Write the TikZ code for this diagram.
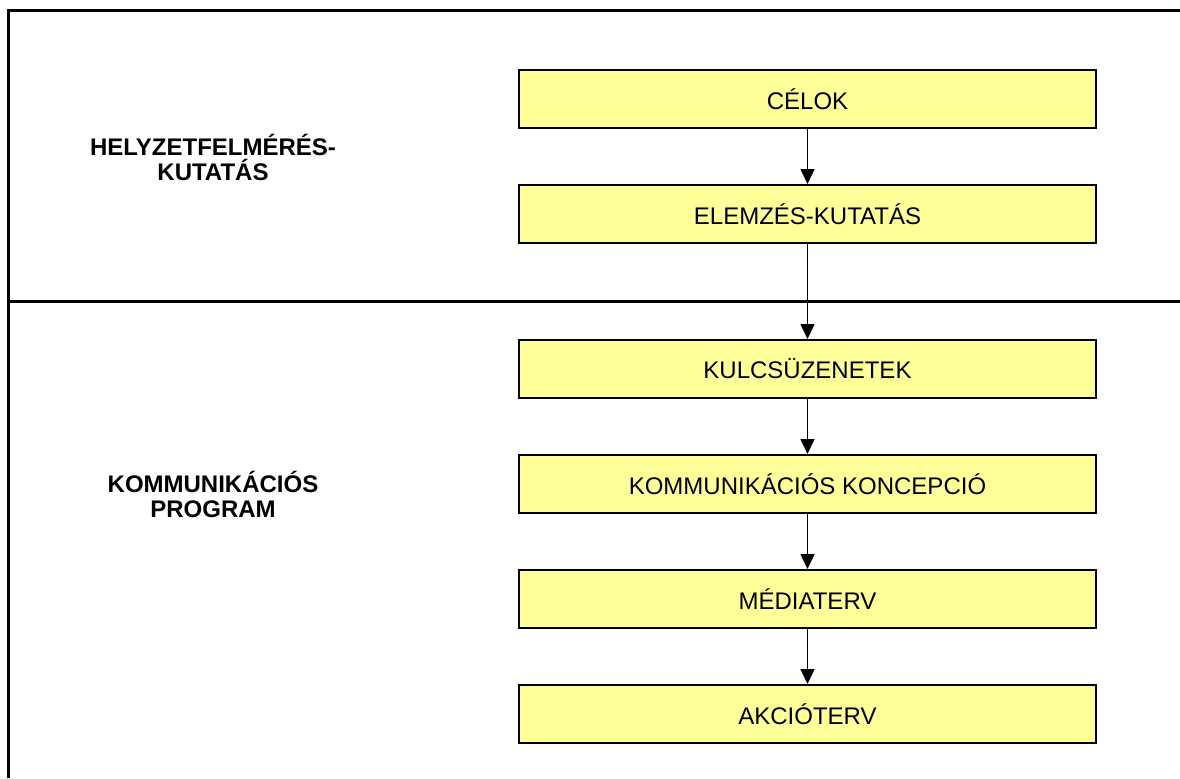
\documentclass[tikz,border=0pt]{standalone}
\usepackage{fontspec}
\setmainfont{Liberation Sans}
\definecolor{boxfill}{HTML}{FFFF99}
\definecolor{ink}    {HTML}{000000}
\usetikzlibrary{positioning,arrows.meta}
\tikzset{
  stepbox/.style={draw=ink,line width=1pt,fill=boxfill,
                  minimum width=288.5pt,minimum height=29pt,inner sep=0pt,
                  font=\fontsize{12}{14}\selectfont,text=ink},
  phase/.style={align=center,text=ink,
                font=\fontsize{12}{12.5}\selectfont\bfseries},
  flow/.style={-{Triangle[width=7pt,length=7.5pt]},line width=0.8pt,draw=ink},
  frame/.style={line width=1.5pt,draw=ink}
}
\begin{document}
\begin{tikzpicture}[x=0.5pt,y=-0.5pt,node distance=27.5pt]
  \useasboundingbox (0,0) rectangle (1180,778);
  % frame and divider
  \draw[frame] (8,778) -- (8,10) -- (1180,10);
  \draw[frame] (8,301) -- (1180,301);
  % phase labels
  \node[phase] (helyzet) at (213,157) {HELYZETFELMÉRÉS-\\KUTATÁS};
  \node[phase] (program) at (213,494) {KOMMUNIKÁCIÓS\\PROGRAM};
  % boxes
  \node[stepbox] (celok) at (807.5,99) {CÉLOK};
  \node[stepbox,below=of celok] (elemzes) {ELEMZÉS-KUTATÁS};
  \node[stepbox,below=47.5pt of elemzes] (kulcs) {KULCSÜZENETEK};
  \node[stepbox,below=of kulcs] (koncepcio) {KOMMUNIKÁCIÓS KONCEPCIÓ};
  \node[stepbox,below=of koncepcio] (media) {MÉDIATERV};
  \node[stepbox,below=of media] (akcio) {AKCIÓTERV};
  % arrows
  \draw[flow] (celok) -- (elemzes);
  \draw[flow] (elemzes) -- (kulcs);
  \draw[flow] (kulcs) -- (koncepcio);
  \draw[flow] (koncepcio) -- (media);
  \draw[flow] (media) -- (akcio);
\end{tikzpicture}
\end{document}
